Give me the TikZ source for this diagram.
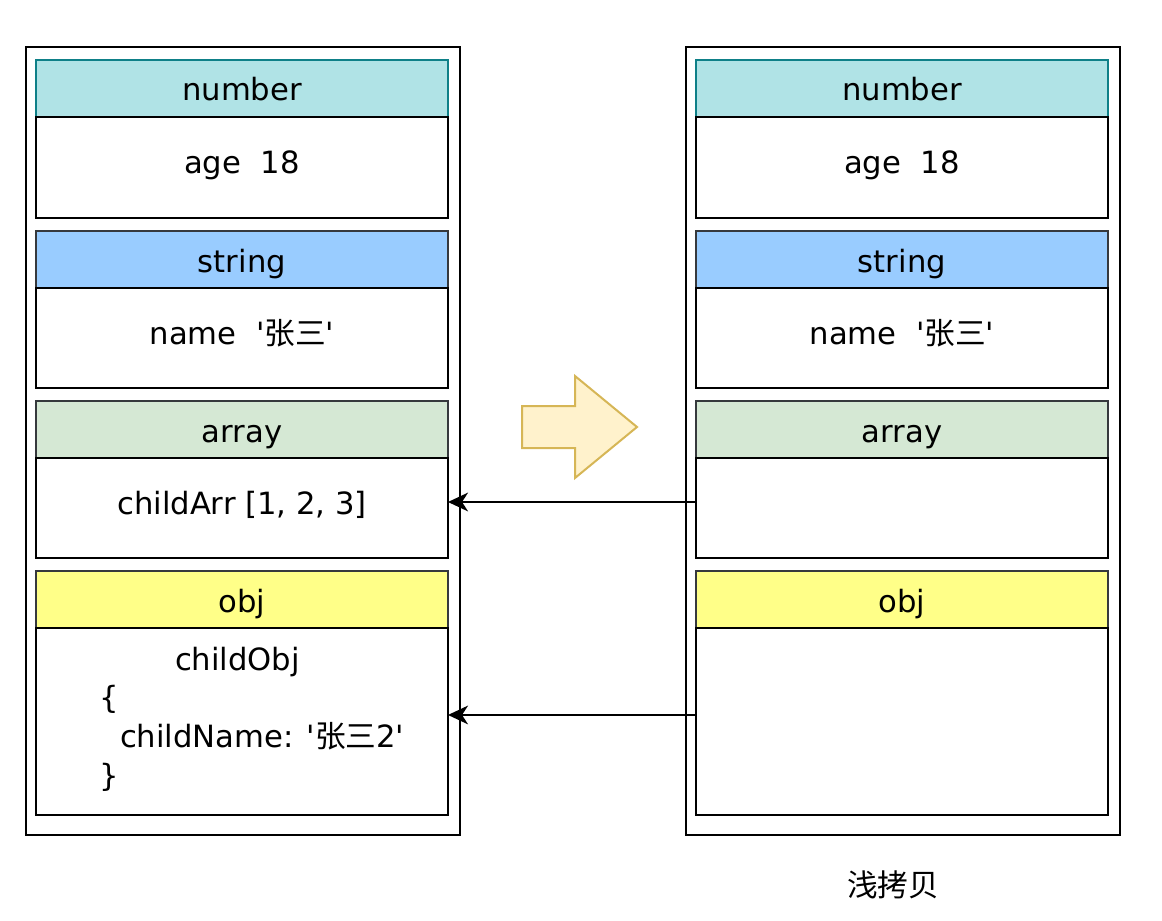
\documentclass[tikz,border=0pt]{standalone}
\usepackage{fontspec}
\setmainfont{DejaVu Sans}
\newfontfamily\cjk{Noto Sans CJK SC}
\usetikzlibrary{arrows.meta}
\definecolor{numfill}{HTML}{B0E3E6}
\definecolor{numline}{HTML}{0E8088}
\definecolor{strfill}{HTML}{99CCFF}
\definecolor{arrfill}{HTML}{D5E8D4}
\definecolor{objfill}{HTML}{FFFF88}
\definecolor{darkline}{HTML}{36393D}
\definecolor{bigfill}{HTML}{FFF2CC}
\definecolor{bigline}{HTML}{D6B656}
\newcommand{\q}{\textquotesingle}
\begin{document}
\begin{tikzpicture}[x=0.75pt,y=-0.75pt,
  every node/.style={font=\fontsize{23}{28}\selectfont, inner sep=0pt, outer sep=0pt},
  outerbox/.style={draw=black, line width=1.5pt, minimum width=325.5pt, minimum height=591pt},
  hdr/.style={draw=#1, line width=1.5pt, minimum width=309pt, minimum height=42.75pt, text height=18.75pt, text depth=0pt},
  bdy/.style={draw=black, line width=1.5pt, fill=white, minimum width=309pt, minimum height=#1, text height=9pt, text depth=0pt},
  link/.style={draw=black, line width=1.5pt, -{Stealth[length=15pt,width=14pt,inset=4.5pt]}}
]
\useasboundingbox (0,0) rectangle (1162,920);
% outer boxes
\node[outerbox] (lout) at (243,441) {};
\node[outerbox] (rout) at (903,441) {};
% left column
\node[hdr=numline, fill=numfill] (lnumh) at (242,88.5) {number};
\node[bdy=75.75pt] (lnumb) at (242,167.5) {age\ \ 18};
\node[hdr=darkline, fill=strfill] (lstrh) at (242,259.5) {string};
\node[bdy=75pt] (lstrb) at (242,338) {name\ \ \q{\cjk 张三}\q};
\node[hdr=darkline, fill=arrfill] (larrh) at (242,429.5) {array};
\node[bdy=75pt] (larrb) at (242,508) {childArr [1, 2, 3]};
\node[hdr=darkline, fill=objfill] (lobjh) at (242,599.5) {obj};
\node[bdy=140.25pt] (lobjb) at (242,721.5) {};
\node[anchor=west] (t1) at (175,662) {childObj};
\node[anchor=west] (t2) at (99,699) {\{};
\node[anchor=west] (t3) at (120,736) {childName: \q{\cjk 张三}2\q};
\node[anchor=west] (t4) at (99,777) {\}};
% right column
\node[hdr=numline, fill=numfill] (rnumh) at (902,88.5) {number};
\node[bdy=75.75pt] (rnumb) at (902,167.5) {age\ \ 18};
\node[hdr=darkline, fill=strfill] (rstrh) at (902,259.5) {string};
\node[bdy=75pt] (rstrb) at (902,338) {name\ \ \q{\cjk 张三}\q};
\node[hdr=darkline, fill=arrfill] (rarrh) at (902,429.5) {array};
\node[bdy=75pt] (rarrb) at (902,508) {};
\node[hdr=darkline, fill=objfill] (robjh) at (902,599.5) {obj};
\node[bdy=140.25pt] (robjb) at (902,721.5) {};
% big arrow
\draw[draw=bigline, fill=bigfill, line width=1.5pt, line join=miter]
  (522,406) -- (575,406) -- (575,376) -- (637,427) -- (575,478) -- (575,448) -- (522,448) -- cycle;
% links
\draw[link] ([yshift=4.5pt]rarrb.west) -- ([yshift=4.5pt]larrb.east);
\draw[link] ([yshift=4.9pt]robjb.west) -- ([yshift=4.9pt]lobjb.east);
% caption
\node (cap) at (893,885) {\cjk 浅拷贝};
\end{tikzpicture}
\end{document}
